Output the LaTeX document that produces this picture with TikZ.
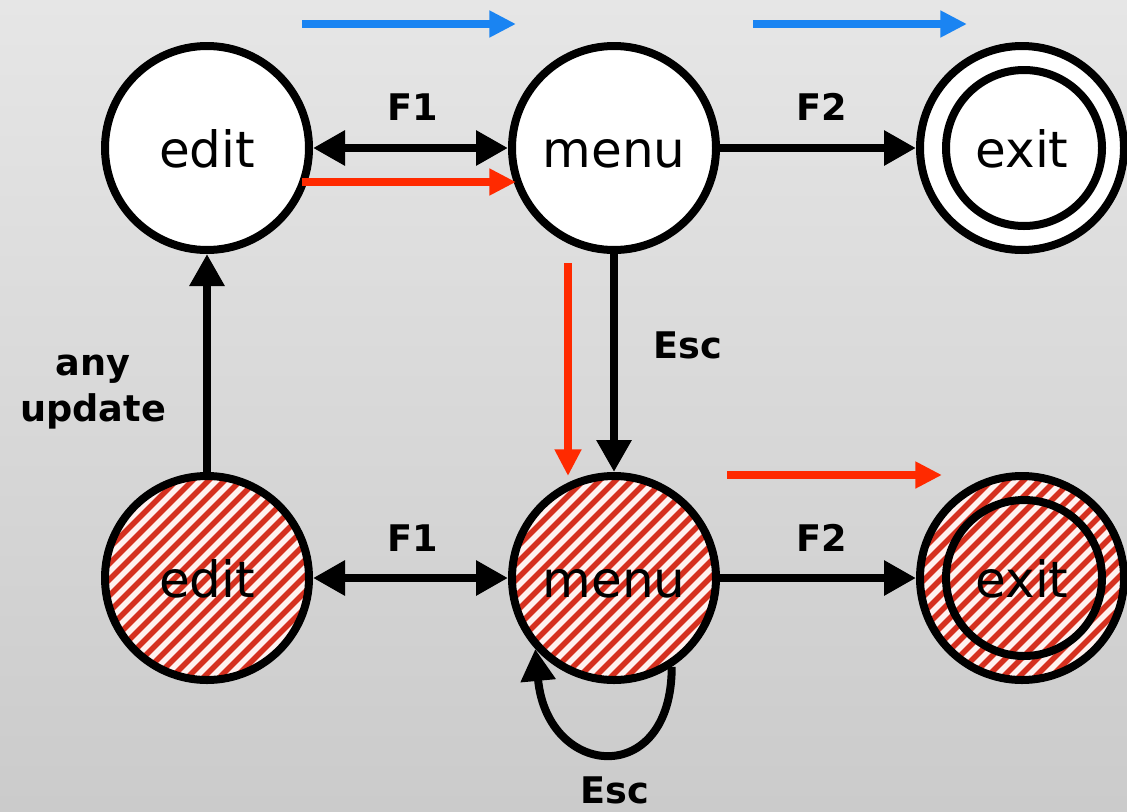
\documentclass[tikz,border=0pt]{standalone}
\usepackage{fontspec}
\setmainfont{DejaVu Sans}
\usetikzlibrary{arrows.meta}
\definecolor{bgtop}{HTML}{E6E6E6}
\definecolor{bgbot}{HTML}{CBCBCB}
\definecolor{hatchred}{HTML}{D5301F}
\definecolor{hatchbg}{HTML}{FFF2F0}
\definecolor{arrblue}{HTML}{1A84F2}
\definecolor{arrred}{HTML}{FF2A00}
\begin{document}
\begin{tikzpicture}[x=0.75pt,y=-0.75pt,
  state/.style={circle, draw=black, line width=6pt, minimum size=153pt, inner sep=0pt,
    text height=28.5pt, text depth=0pt,
    font=\fontsize{37.5}{40}\selectfont},
  plainstate/.style={state, fill=white},
  hatched/.style={state, fill=hatchbg, path picture={
    \foreach \k in {-11,...,11}
      \draw[hatchred, line width=4.2pt] ([shift={(\k*16-170,170)}]path picture bounding box.center) -- ++(340,-340);}},
  innerring/.style={circle, draw=black, line width=6pt, minimum size=117pt, inner sep=0pt},
  lbl/.style={font=\fontsize{27.5}{34}\selectfont\bfseries, text=black, inner sep=0pt, align=center},
  conn/.style={line width=6pt, -{Triangle[length=24pt,width=25pt]}},
  biconn/.style={line width=6pt, {Triangle[length=24pt,width=25pt]}-{Triangle[length=24pt,width=25pt]}},
  hint/.style={line width=6pt, -{Triangle[length=20pt,width=19pt]}},
]
\useasboundingbox (0,0) rectangle (1127,811);
\shade[top color=bgtop, bottom color=bgbot] (0,0) rectangle (1127,811);

% top row
\node[plainstate] (e1) at (207,148) {edit};
\node[plainstate] (m1) at (614,148) {menu};
\node[plainstate] (x1) at (1022,148) {exit};
\node[innerring] (x1in) at (1024,148) {};

% bottom row
\node[hatched] (e2) at (207,578) {edit};
\node[hatched] (m2) at (614,578) {menu};
\node[hatched] (x2) at (1022,578) {exit};
\node[innerring] (x2in) at (1024,578) {};

% connectors
\draw[biconn] (e1) -- (m1);
\draw[conn] (m1) -- (x1);
\draw[conn] (m1) -- (m2);
\draw[conn] (e2) -- (e1);
\draw[biconn] (e2) -- (m2);
\draw[conn] (m2) -- (x2);
\draw[conn] (m2.-57) .. controls +(0,122) and +(12,130) .. (m2.-138);

% labels
\node[lbl] (lf1a) at (413,107) {F1};
\node[lbl] (lf2a) at (822,107) {F2};
\node[lbl] (lesca) at (688,345) {Esc};
\node[lbl] (lany) at (93,392) {any\\update};
\node[lbl] (lf1b) at (413,538) {F1};
\node[lbl] (lf2b) at (822,538) {F2};
\node[lbl] (lescb) at (615,790) {Esc};

% coloured hint arrows
\coordinate (b1s) at (302,24);  \coordinate (b1e) at (516,24);
\coordinate (b2s) at (753,24);  \coordinate (b2e) at (967,24);
\coordinate (r1s) at (302,182); \coordinate (r1e) at (516,182);
\coordinate (r2s) at (568,263); \coordinate (r2e) at (568,476);
\coordinate (r3s) at (727,475); \coordinate (r3e) at (942,475);
\draw[hint, arrblue] (b1s) -- (b1e);
\draw[hint, arrblue] (b2s) -- (b2e);
\draw[hint, arrred] (r1s) -- (r1e);
\draw[hint, arrred] (r2s) -- (r2e);
\draw[hint, arrred] (r3s) -- (r3e);
\end{tikzpicture}
\end{document}
